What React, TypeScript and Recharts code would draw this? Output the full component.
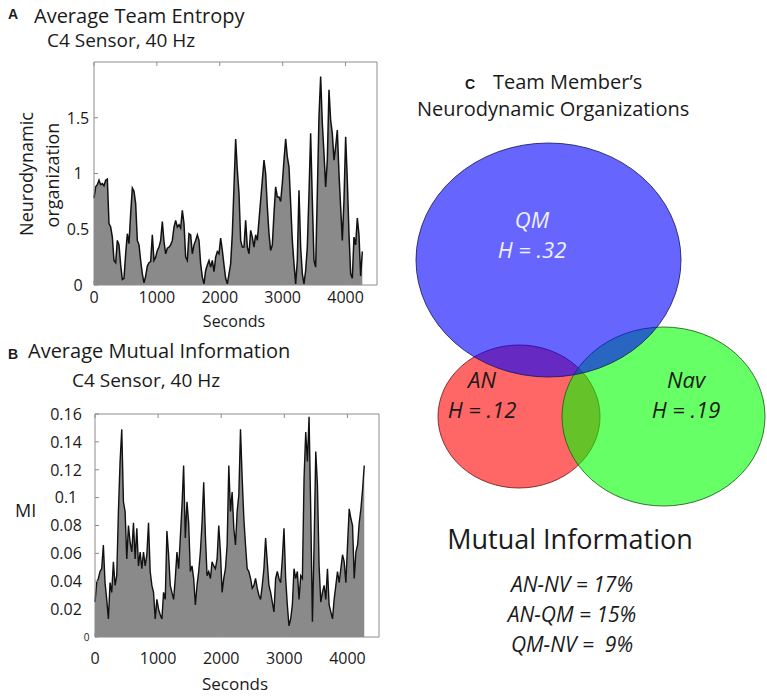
import React from 'react';
import { AreaChart, Area, XAxis, YAxis, ScatterChart, Scatter } from 'recharts';

const FONT = "'Open Sans', 'DejaVu Sans', sans-serif";
const INK = '#1a1a1a';
const AXIS_GREY = '#8c8c8c';

// ---- time series (one sample every ~26.5 s) ----
const SAMPLE_STEP = 26.5;
const SECONDS_TICKS = [0, 1000, 2000, 3000, 4000];
const ENTROPY_TICKS = [0, 0.5, 1, 1.5];
const MI_TICKS = [0, 0.02, 0.04, 0.06, 0.08, 0.1, 0.12, 0.14, 0.16];

// panel A: average team entropy
const entropyValues = [
  0.78, 0.88, 0.9, 0.94, 0.9, 0.91, 0.89, 0.94, 0.95, 0.55, 0.52, 0.43, 0.22, 0.2, 0.4, 0.36,
  0.18, 0.05, 0.06, 0.28, 0.46, 0.37, 0.64, 0.87, 0.84, 0.73, 0.4, 0.36, 0.22, 0.1, 0.02, 0.08,
  0.17, 0.2, 0.21, 0.45, 0.22, 0.25, 0.31, 0.34, 0.4, 0.57, 0.39, 0.28, 0.33, 0.34, 0.36, 0.4,
  0.52, 0.58, 0.52, 0.54, 0.51, 0.67, 0.55, 0.25, 0.22, 0.46, 0.45, 0.28, 0.36, 0.4, 0.45, 0.4,
  0.19, 0.07, 0.01, 0.13, 0.18, 0.22, 0.16, 0.22, 0.12, 0.25, 0.3, 0.28, 0.42, 0.31, 0.18, 0.06,
  0.01, 0.1, 0.19, 0.46, 0.88, 1.31, 1.03, 0.82, 0.4, 0.34, 0.34, 0.58, 0.34, 0.28, 0.49, 0.43,
  0.34, 0.45, 0.4, 0.58, 0.76, 0.94, 1.12, 1.0, 0.7, 0.46, 0.31, 0.36, 0.64, 0.88, 0.79, 0.79,
  0.75, 0.91, 1.12, 1.31, 1.15, 1.06, 0.73, 0.4, 0.19, 0.01, 0.22, 0.85, 0.34, 0.1, 0.01, 0.13,
  0.34, 0.82, 1.36, 0.76, 0.22, 0.16, 0.82, 1.51, 1.87, 1.45, 1.18, 0.88, 1.12, 1.75, 1.48, 1.36,
  1.12, 1.24, 1.39, 1.0, 0.7, 0.4, 0.76, 1.33, 0.94, 0.46, 0.1, 0.06, 0.43, 0.36, 0.6, 0.45,
  0.08, 0.3,
];

// panel B: average mutual information
const miValues = [
  0.025, 0.039, 0.042, 0.047, 0.049, 0.066, 0.039, 0.027, 0.013, 0.039, 0.032, 0.054, 0.037, 0.044,
  0.09, 0.126, 0.149, 0.097, 0.09, 0.056, 0.08, 0.068, 0.061, 0.082, 0.056, 0.078, 0.051, 0.061,
  0.049, 0.061, 0.051, 0.059, 0.082, 0.047, 0.037, 0.032, 0.013, 0.027, 0.02, 0.016, 0.013, 0.032,
  0.027, 0.076, 0.059, 0.037, 0.032, 0.027, 0.042, 0.061, 0.049, 0.071, 0.094, 0.123, 0.071, 0.097,
  0.082, 0.047, 0.051, 0.042, 0.023, 0.037, 0.047, 0.061, 0.082, 0.111, 0.073, 0.044, 0.047, 0.042,
  0.054, 0.051, 0.049, 0.056, 0.08, 0.061, 0.032, 0.042, 0.049, 0.066, 0.123, 0.09, 0.104, 0.078,
  0.066, 0.09, 0.102, 0.149, 0.114, 0.085, 0.066, 0.049, 0.047, 0.042, 0.035, 0.037, 0.042, 0.035,
  0.03, 0.027, 0.037, 0.049, 0.071, 0.054, 0.037, 0.032, 0.025, 0.018, 0.042, 0.047, 0.042, 0.039,
  0.056, 0.078, 0.042, 0.023, 0.008, 0.013, 0.023, 0.049, 0.042, 0.047, 0.027, 0.044, 0.042, 0.114,
  0.147, 0.126, 0.158, 0.09, 0.011, 0.066, 0.133, 0.109, 0.051, 0.025, 0.032, 0.037, 0.027, 0.049,
  0.023, 0.018, 0.013, 0.027, 0.037, 0.047, 0.039, 0.049, 0.059, 0.054, 0.039, 0.066, 0.092, 0.085,
  0.08, 0.042, 0.061, 0.066, 0.082, 0.092, 0.106, 0.123,
];

const entropyData = entropyValues.map((v, i) => ({ t: i * SAMPLE_STEP, v }));
const miData = miValues.map((v, i) => ({ t: i * SAMPLE_STEP, v }));

// ---- panel C: team members ----
const MEMBERS = ['AN', 'Nav', 'QM'];
const MEMBER_ENTROPY = ['.12', '.19', '.32'];
const MI_PAIRS = ['AN-NV', 'AN-QM', 'QM-NV'];
const MI_PERCENT = ['17%', '15%', '\u00a09%'];

// diagram geometry in page pixels (drawing order: red, green, blue)
const VENN_LAYOUT = [
  { cx: 519, cy: 416.5, rx: 81, ry: 71.5, lx: 482, ly: 380, fill: '#ff0000', stroke: '#6e1c1c', text: INK },
  { cx: 663.5, cy: 416.5, rx: 101.5, ry: 89.5, lx: 686, ly: 380, fill: '#00ff00', stroke: '#1c5e1c', text: INK },
  { cx: 548.5, cy: 260, rx: 132.5, ry: 117, lx: 532, ly: 220, fill: '#0000ff', stroke: '#1c1c5e', text: '#f0f0ff' },
];

const vennData = MEMBERS.map((name, i) => ({ name, h: MEMBER_ENTROPY[i], ...VENN_LAYOUT[i] }));
const vennLabels = vennData.map((d) => ({ ...d, cx: d.lx, cy: d.ly }));

const AXIS_LINE = { stroke: AXIS_GREY, strokeWidth: 1 };
const X_TICK = { fill: INK, fontSize: 16, fontFamily: FONT };

function YTickLabel(props: any) {
  const { x, y, payload, zeroSmall } = props;
  if (zeroSmall && payload.value === 0) {
    return (
      <text x={x + 20.5} y={y} dy="0.35em" textAnchor="middle" fontSize={10} fontFamily={FONT} fill={INK}>
        0
      </text>
    );
  }
  return (
    <text x={x} y={y} dy="0.36em" textAnchor="middle" fontSize={16} fontFamily={FONT} fill={INK}>
      {payload.value}
    </text>
  );
}

function EllipseShape(props: any) {
  const { cx, cy, payload } = props;
  return (
    <ellipse
      cx={cx}
      cy={cy}
      rx={payload.rx}
      ry={payload.ry}
      fill={payload.fill}
      fillOpacity={0.6}
      stroke={payload.stroke}
      strokeOpacity={0.85}
      strokeWidth={1}
    />
  );
}

function MemberLabel(props: any) {
  const { cx, cy, payload } = props;
  return (
    <text x={cx} textAnchor="middle" fontFamily={FONT} fontStyle="italic" fontSize={22} fill={payload.text}>
      <tspan x={cx} y={cy + 8}>{payload.name}</tspan>
      <tspan x={cx} y={cy + 38}>{`H = ${payload.h}`}</tspan>
    </text>
  );
}

function EntropyChart() {
  return (
    <AreaChart width={400} height={330} data={entropyData} margin={{ top: 61, right: 22, bottom: 0, left: 0 }}>
      <XAxis dataKey="t" type="number" domain={[0, 4500]} ticks={SECONDS_TICKS} interval={0} height={45}
        axisLine={AXIS_LINE} tickLine={AXIS_LINE} tickSize={-4} tickMargin={11} tick={X_TICK} />
      <XAxis xAxisId="top" orientation="top" dataKey="t" type="number" domain={[0, 4500]} ticks={SECONDS_TICKS}
        interval={0} height={1} axisLine={AXIS_LINE} tickLine={AXIS_LINE} tickSize={-4} tickFormatter={() => ''} />
      <YAxis type="number" domain={[0, 2]} ticks={ENTROPY_TICKS} interval={0} width={94}
        axisLine={AXIS_LINE} tickLine={AXIS_LINE} tickSize={-4} tickMargin={20}
        tick={(p: any) => <YTickLabel {...p} />} />
      <YAxis yAxisId="right" orientation="right" type="number" domain={[0, 2]} ticks={ENTROPY_TICKS} interval={0}
        width={1} axisLine={AXIS_LINE} tickLine={AXIS_LINE} tickSize={-4} tickFormatter={() => ''} />
      <Area type="linear" dataKey="v" stroke="#111" strokeWidth={1.5} fill="#8a8a8a" fillOpacity={1}
        dot={false} activeDot={false} isAnimationActive={false} />
    </AreaChart>
  );
}

function MutualInfoChart() {
  return (
    <AreaChart width={400} height={698} data={miData} margin={{ top: 413, right: 20, bottom: 21, left: 0 }}>
      <XAxis dataKey="t" type="number" domain={[0, 4500]} ticks={SECONDS_TICKS} interval={0} height={40}
        axisLine={AXIS_LINE} tickLine={AXIS_LINE} tickSize={-4} tickMargin={20} tick={X_TICK} />
      <XAxis xAxisId="top" orientation="top" dataKey="t" type="number" domain={[0, 4500]} ticks={SECONDS_TICKS}
        interval={0} height={1} axisLine={AXIS_LINE} tickLine={AXIS_LINE} tickSize={-4} tickFormatter={() => ''} />
      <YAxis type="number" domain={[0, 0.16]} ticks={MI_TICKS} interval={0} width={95}
        axisLine={AXIS_LINE} tickLine={AXIS_LINE} tickSize={-4} tickMargin={33}
        tick={(p: any) => <YTickLabel {...p} zeroSmall />} />
      <YAxis yAxisId="right" orientation="right" type="number" domain={[0, 0.16]} ticks={MI_TICKS} interval={0}
        width={1} axisLine={AXIS_LINE} tickLine={AXIS_LINE} tickSize={-4} tickFormatter={() => ''} />
      <Area type="linear" dataKey="v" stroke="#111" strokeWidth={1.4} fill="#8a8a8a" fillOpacity={1}
        dot={false} activeDot={false} isAnimationActive={false} />
    </AreaChart>
  );
}

function VennChart() {
  return (
    <ScatterChart width={367} height={698} margin={{ top: 0, right: 0, bottom: 0, left: 0 }}>
      <XAxis type="number" dataKey="cx" domain={[400, 767]} hide allowDataOverflow />
      <YAxis type="number" dataKey="cy" domain={[0, 698]} reversed hide allowDataOverflow />
      <Scatter data={vennData} shape={EllipseShape} isAnimationActive={false} />
      <Scatter data={vennLabels} shape={MemberLabel} isAnimationActive={false} />
    </ScatterChart>
  );
}

function Annotations() {
  const t = { fontFamily: FONT, fill: INK };
  const bold = { fontFamily: "'Liberation Sans', Arial, sans-serif", fontWeight: 'bold' as const, fontSize: 14, fill: INK };
  return (
    <svg width={767} height={698} style={{ position: 'absolute', left: 0, top: 0, pointerEvents: 'none' }}>
      {/* panel A */}
      <text x={8} y={19} {...bold}>A</text>
      <text x={34} y={23} fontSize={20} {...t}>Average Team Entropy</text>
      <text x={47} y={47} fontSize={19} {...t}>C4 Sensor, 40 Hz</text>
      <g transform="rotate(-90)">
        <text x={-174} y={33} textAnchor="middle" fontSize={18} {...t}>Neurodynamic</text>
        <text x={-175} y={59} textAnchor="middle" fontSize={18} {...t}>organization</text>
      </g>
      <text x={234} y={327} textAnchor="middle" fontSize={16} {...t}>Seconds</text>

      {/* panel B */}
      <text x={8} y={359} {...bold}>B</text>
      <text x={28} y={358} fontSize={20} {...t}>Average Mutual Information</text>
      <text x={72} y={387} fontSize={19} {...t}>C4 Sensor, 40 Hz</text>
      <text x={15} y={517} fontSize={18} {...t}>MI</text>
      <text x={235} y={690} textAnchor="middle" fontSize={17} {...t}>Seconds</text>

      {/* panel C */}
      <text x={465} y={89} {...bold}>C</text>
      <text x={493} y={89} fontSize={20} {...t}>Team Member’s</text>
      <text x={417} y={116} fontSize={20} {...t}>Neurodynamic Organizations</text>
      <text x={570} y={549} textAnchor="middle" fontSize={27} {...t}>Mutual Information</text>
      {MI_PAIRS.map((pair, i) => (
        <text key={pair} x={572} y={592 + i * 30} textAnchor="middle" fontSize={21} fontStyle="italic" {...t}>
          {`${pair} = ${MI_PERCENT[i]}`}
        </text>
      ))}
    </svg>
  );
}

export default function App() {
  return (
    <div style={{ position: 'absolute', left: 0, top: 0, width: 767, height: 698, background: '#fff' }}>
      <div style={{ position: 'absolute', left: 0, top: 0 }}>
        <EntropyChart />
      </div>
      <div style={{ position: 'absolute', left: 0, top: 0 }}>
        <MutualInfoChart />
      </div>
      <div style={{ position: 'absolute', left: 400, top: 0 }}>
        <VennChart />
      </div>
      <Annotations />
    </div>
  );
}
